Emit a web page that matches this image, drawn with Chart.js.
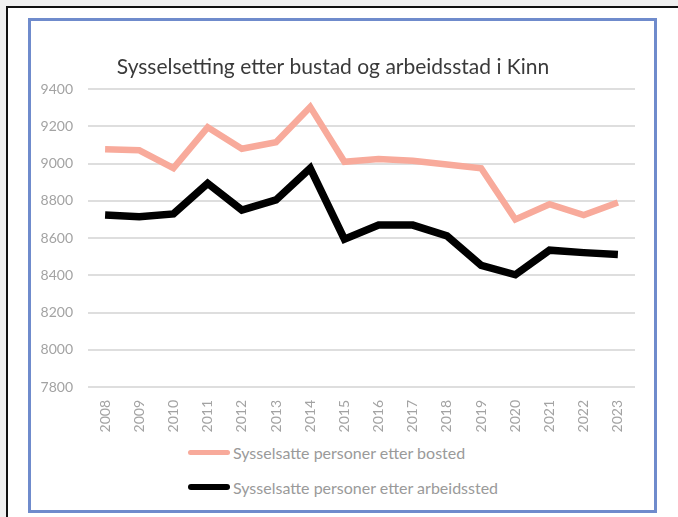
<!DOCTYPE html>
<html>
<head>
<meta charset="utf-8">
<script src="https://cdn.jsdelivr.net/npm/chart.js@4"></script>
<style>
  body { margin: 0; background: #f0f0f0; width: 678px; height: 517px; overflow: hidden; position: relative; font-family: Lato, sans-serif; }
  #outer { position: absolute; left: 6px; top: 6px; width: 700px; height: 540px; border: 2px solid #111; background: #fff; }
  #frame { position: absolute; left: 28px; top: 18px; width: 629px; height: 495px; box-sizing: border-box; border: 3px solid #6f8bcc; background: #fff; }
  #chart { position: absolute; left: 31px; top: 21px; }
  .leg { position: absolute; left: 188px; height: 20px; display: flex; align-items: center; font-size: 16px; color: #9a9a9a; white-space: nowrap; }
  .leg span.sw { display: inline-block; width: 42px; border-radius: 4px; margin-right: 3px; }
</style>
</head>
<body>
<div id="outer"></div>
<div id="frame"></div>
<canvas id="chart" width="623" height="416"></canvas>
<div id="legend"></div>
<script>
// Years on the x axis
const years = ['2008', '2009', '2010', '2011', '2012', '2013', '2014', '2015',
               '2016', '2017', '2018', '2019', '2020', '2021', '2022', '2023'];

// Employed persons by place of residence
const bosted = [9077, 9072, 8976, 9195, 9080, 9115, 9305, 9010,
                9025, 9015, 8996, 8975, 8700, 8782, 8724, 8791];

// Employed persons by place of work
const arbeidssted = [8724, 8715, 8730, 8894, 8751, 8805, 8975, 8594,
                     8670, 8670, 8612, 8454, 8403, 8535, 8522, 8512];

const seriesLabels = ['Sysselsatte personer etter bosted', 'Sysselsatte personer etter arbeidssted'];
const chartTitle = 'Sysselsetting etter bustad og arbeidsstad i Kinn';

const tickColor = '#a3a3a3';

const ctx = document.getElementById('chart');
const chart = new Chart(ctx, {
  type: 'line',
  data: {
    labels: years,
    datasets: [
      {
        label: seriesLabels[0],
        data: bosted,
        borderColor: '#f8aa9b',
        backgroundColor: '#f8aa9b',
        borderWidth: 6.5,
        pointRadius: 0,
        tension: 0
      },
      {
        label: seriesLabels[1],
        data: arbeidssted,
        borderColor: '#000000',
        backgroundColor: '#000000',
        borderWidth: 7.5,
        pointRadius: 0,
        tension: 0
      }
    ]
  },
  options: {
    responsive: false,
    animation: false,
    layout: { padding: { left: 0, right: 19, top: 0, bottom: 0 } },
    plugins: {
      legend: { display: false },
      tooltip: { enabled: false },
      title: {
        display: true,
        text: chartTitle,
        color: '#3a3a3a',
        font: { family: 'Lato', size: 21, weight: 'normal' },
        padding: { top: 34, bottom: 9 }
      }
    },
    scales: {
      x: {
        offset: true,
        grid: { display: false, drawTicks: false },
        border: { display: false },
        ticks: {
          color: tickColor,
          font: { family: 'Lato', size: 14 },
          maxRotation: 90,
          minRotation: 90,
          padding: 13
        },
        afterFit: (s) => { s.height = 50; }
      },
      y: {
        min: 7800,
        max: 9400,
        grid: { color: '#dedede', lineWidth: 2, drawTicks: false },
        border: { display: false },
        ticks: {
          stepSize: 200,
          color: tickColor,
          font: { family: 'Lato', size: 14 },
          padding: 15,
          callback: (v) => String(v)
        },
        afterFit: (s) => { s.width = 57; }
      }
    }
  }
});

// legend built from the datasets, stacked in two rows like the original
const legendEl = document.getElementById('legend');
const rowTops = [442, 477];
chart.data.datasets.forEach((ds, i) => {
  const row = document.createElement('div');
  row.className = 'leg';
  row.style.top = rowTops[i] + 'px';
  const sw = document.createElement('span');
  sw.className = 'sw';
  sw.style.background = ds.borderColor;
  sw.style.height = (i === 0 ? 5 : 6) + 'px';
  row.appendChild(sw);
  row.appendChild(document.createTextNode(ds.label));
  legendEl.appendChild(row);
});
</script>
</body>
</html>
